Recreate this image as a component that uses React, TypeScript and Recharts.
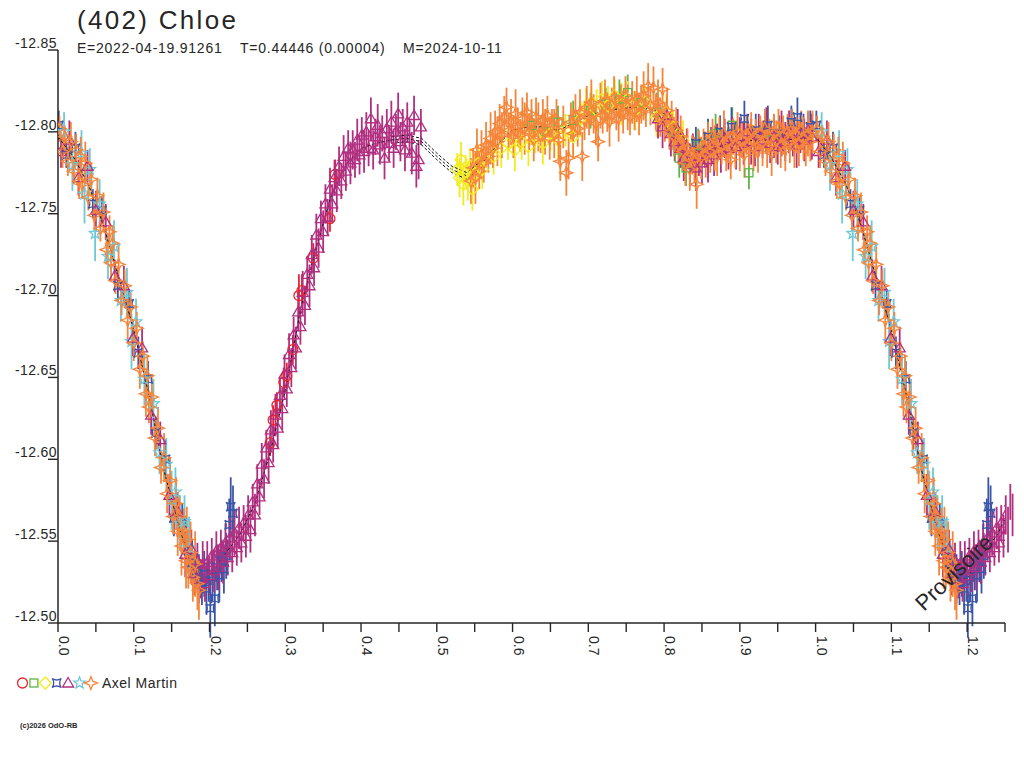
import React from 'react'
import { ScatterChart, Scatter, XAxis, YAxis, ErrorBar } from 'recharts'

type Obs = [number, number, number] // phase, magnitude, error

// red circles
const redObs: Obs[] = [
  [0.280, -12.610, 0.008], [0.284, -12.624, 0.009], [0.289, -12.633, 0.008], [0.298, -12.647, 0.009],
  [0.302, -12.651, 0.008], [0.310, -12.667, 0.009], [0.318, -12.700, 0.013], [0.322, -12.703, 0.010],
  [0.337, -12.723, 0.009], [0.359, -12.747, 0.008], [0.366, -12.774, 0.009],
]

// green squares
const greenObs: Obs[] = [
  [0.625, -12.804, 0.010], [0.642, -12.800, 0.011], [0.660, -12.806, 0.010], [0.680, -12.807, 0.012],
  [0.703, -12.813, 0.011], [0.723, -12.817, 0.010], [0.741, -12.820, 0.012], [0.752, -12.824, 0.011],
  [0.770, -12.818, 0.010], [0.790, -12.812, 0.012], [0.812, -12.800, 0.011], [0.820, -12.784, 0.012],
  [0.829, -12.778, 0.011], [0.845, -12.792, 0.010], [0.868, -12.799, 0.012], [0.890, -12.804, 0.011],
  [0.912, -12.775, 0.010], [0.934, -12.800, 0.012],
]

// yellow diamonds
const yellowObs: Obs[] = [
  [0.527, -12.777, 0.010], [0.530, -12.772, 0.012], [0.532, -12.783, 0.011], [0.535, -12.768, 0.013],
  [0.538, -12.776, 0.010], [0.541, -12.770, 0.012], [0.544, -12.779, 0.011], [0.547, -12.765, 0.013],
  [0.551, -12.774, 0.012], [0.555, -12.781, 0.011], [0.560, -12.777, 0.012],
  [0.575, -12.785, 0.011], [0.585, -12.790, 0.012], [0.594, -12.793, 0.010], [0.603, -12.789, 0.013],
  [0.612, -12.794, 0.011], [0.621, -12.791, 0.012], [0.630, -12.797, 0.010], [0.640, -12.793, 0.013],
  [0.650, -12.799, 0.011], [0.660, -12.795, 0.012], [0.670, -12.801, 0.010], [0.680, -12.797, 0.013],
  [0.690, -12.808, 0.011], [0.697, -12.815, 0.012], [0.704, -12.818, 0.010], [0.711, -12.813, 0.013],
  [0.718, -12.820, 0.011], [0.726, -12.816, 0.012], [0.735, -12.822, 0.010], [0.744, -12.817, 0.013],
  [0.752, -12.820, 0.011], [0.762, -12.813, 0.012], [0.775, -12.818, 0.010], [0.790, -12.809, 0.012],
  [0.803, -12.812, 0.011], [0.812, -12.803, 0.010], [0.825, -12.795, 0.012],
]

// blue curled squares
const blueObs: Obs[] = [
  [0.001, -12.804, 0.009], [0.011, -12.786, 0.008], [0.023, -12.790, 0.010], [0.046, -12.756, 0.009],
  [0.058, -12.752, 0.008], [0.079, -12.706, 0.010], [0.094, -12.695, 0.009], [0.106, -12.665, 0.010],
  [0.119, -12.649, 0.011], [0.129, -12.616, 0.010], [0.142, -12.600, 0.012], [0.153, -12.564, 0.011],
  [0.164, -12.561, 0.012], [0.172, -12.544, 0.013], [0.177, -12.537, 0.014], [0.182, -12.532, 0.012],
  [0.186, -12.527, 0.015], [0.190, -12.524, 0.013], [0.193, -12.530, 0.014], [0.196, -12.521, 0.016],
  [0.199, -12.526, 0.013], [0.201, -12.509, 0.018], [0.204, -12.528, 0.015], [0.207, -12.515, 0.017],
  [0.210, -12.534, 0.014], [0.213, -12.529, 0.016], [0.216, -12.538, 0.013], [0.219, -12.533, 0.015],
  [0.222, -12.541, 0.014], [0.226, -12.560, 0.016], [0.228, -12.571, 0.018], [0.231, -12.567, 0.017],
  [0.842, -12.793, 0.010], [0.858, -12.797, 0.011], [0.874, -12.800, 0.010], [0.889, -12.803, 0.012],
  [0.906, -12.808, 0.011], [0.921, -12.801, 0.010], [0.937, -12.804, 0.012], [0.952, -12.799, 0.011],
  [0.968, -12.806, 0.010], [0.976, -12.809, 0.012], [0.984, -12.800, 0.011], [0.993, -12.803, 0.010],
]

// magenta triangles
const magentaObs: Obs[] = [
  [0.004, -12.788, 0.010], [0.015, -12.795, 0.012], [0.027, -12.772, 0.011], [0.039, -12.779, 0.010],
  [0.050, -12.752, 0.012], [0.063, -12.745, 0.011], [0.075, -12.712, 0.010], [0.087, -12.706, 0.012],
  [0.099, -12.674, 0.011], [0.111, -12.668, 0.013], [0.123, -12.627, 0.012], [0.135, -12.612, 0.011],
  [0.147, -12.578, 0.013], [0.158, -12.568, 0.012], [0.168, -12.542, 0.014],
  [0.176, -12.545, 0.012], [0.180, -12.530, 0.013], [0.184, -12.538, 0.011], [0.188, -12.527, 0.012],
  [0.191, -12.536, 0.014], [0.194, -12.524, 0.011], [0.197, -12.537, 0.013], [0.200, -12.529, 0.012],
  [0.203, -12.541, 0.011], [0.206, -12.532, 0.013], [0.209, -12.544, 0.012], [0.212, -12.534, 0.014],
  [0.215, -12.546, 0.011], [0.218, -12.537, 0.013], [0.221, -12.549, 0.012], [0.224, -12.540, 0.011],
  [0.227, -12.552, 0.013], [0.230, -12.543, 0.012], [0.233, -12.555, 0.014], [0.236, -12.546, 0.011],
  [0.239, -12.558, 0.013], [0.242, -12.549, 0.012], [0.245, -12.561, 0.011], [0.248, -12.553, 0.013],
  [0.251, -12.566, 0.012], [0.254, -12.557, 0.014], [0.257, -12.574, 0.011], [0.260, -12.566, 0.013],
  [0.263, -12.585, 0.012], [0.266, -12.577, 0.011], [0.269, -12.597, 0.013], [0.272, -12.588, 0.012],
  [0.275, -12.607, 0.011], [0.278, -12.598, 0.013], [0.281, -12.618, 0.012], [0.284, -12.609, 0.011],
  [0.287, -12.627, 0.013], [0.290, -12.619, 0.012], [0.293, -12.639, 0.011], [0.296, -12.631, 0.013],
  [0.299, -12.652, 0.012], [0.302, -12.643, 0.011], [0.305, -12.664, 0.013], [0.308, -12.656, 0.012],
  [0.311, -12.676, 0.011], [0.314, -12.668, 0.013], [0.317, -12.690, 0.012], [0.320, -12.681, 0.011],
  [0.323, -12.702, 0.013], [0.326, -12.694, 0.012], [0.329, -12.713, 0.011], [0.332, -12.706, 0.013],
  [0.335, -12.725, 0.012], [0.338, -12.717, 0.011], [0.341, -12.737, 0.013], [0.344, -12.729, 0.012],
  [0.347, -12.747, 0.011], [0.350, -12.739, 0.013], [0.353, -12.756, 0.012], [0.356, -12.748, 0.011],
  [0.359, -12.765, 0.013], [0.362, -12.756, 0.012], [0.365, -12.772, 0.011], [0.368, -12.764, 0.013],
  [0.371, -12.779, 0.012], [0.374, -12.770, 0.011], [0.377, -12.785, 0.013], [0.380, -12.776, 0.012],
  [0.383, -12.790, 0.011], [0.386, -12.781, 0.013], [0.389, -12.789, 0.012], [0.392, -12.783, 0.011],
  [0.395, -12.795, 0.013], [0.398, -12.786, 0.012], [0.401, -12.798, 0.011], [0.404, -12.788, 0.013],
  [0.407, -12.800, 0.012], [0.410, -12.790, 0.011], [0.413, -12.808, 0.013], [0.416, -12.789, 0.012],
  [0.419, -12.797, 0.011], [0.422, -12.804, 0.013], [0.425, -12.792, 0.012], [0.428, -12.799, 0.011],
  [0.431, -12.784, 0.013], [0.434, -12.802, 0.012], [0.437, -12.793, 0.011], [0.440, -12.806, 0.013],
  [0.443, -12.790, 0.012], [0.446, -12.800, 0.011], [0.449, -12.811, 0.013], [0.452, -12.794, 0.012],
  [0.455, -12.803, 0.011], [0.458, -12.789, 0.013], [0.461, -12.806, 0.012], [0.464, -12.796, 0.011],
  [0.467, -12.787, 0.013], [0.470, -12.810, 0.012], [0.473, -12.779, 0.013], [0.476, -12.783, 0.012],
  [0.479, -12.803, 0.011],
  [0.792, -12.808, 0.012], [0.798, -12.803, 0.013], [0.804, -12.810, 0.011], [0.809, -12.799, 0.014],
  [0.814, -12.794, 0.012], [0.818, -12.801, 0.013], [0.822, -12.790, 0.012], [0.826, -12.784, 0.014],
  [0.830, -12.791, 0.011], [0.834, -12.780, 0.013], [0.838, -12.787, 0.012], [0.842, -12.778, 0.014],
  [0.846, -12.785, 0.012], [0.850, -12.781, 0.013], [0.854, -12.789, 0.011], [0.858, -12.783, 0.014],
  [0.862, -12.791, 0.012], [0.866, -12.786, 0.013], [0.870, -12.794, 0.011], [0.875, -12.789, 0.014],
  [0.880, -12.796, 0.012], [0.885, -12.790, 0.013], [0.890, -12.798, 0.011], [0.895, -12.791, 0.014],
  [0.900, -12.797, 0.012], [0.905, -12.793, 0.013], [0.910, -12.800, 0.011], [0.915, -12.794, 0.014],
  [0.920, -12.791, 0.012], [0.925, -12.798, 0.013], [0.930, -12.795, 0.011], [0.935, -12.801, 0.014],
  [0.940, -12.793, 0.012], [0.945, -12.797, 0.013], [0.950, -12.791, 0.011], [0.955, -12.799, 0.014],
  [0.960, -12.794, 0.012], [0.965, -12.800, 0.013], [0.970, -12.796, 0.011], [0.975, -12.792, 0.014],
  [0.980, -12.799, 0.012], [0.985, -12.795, 0.013], [0.990, -12.801, 0.011], [0.995, -12.797, 0.014],
]

// cyan stars
const cyanObs: Obs[] = [
  [0.008, -12.800, 0.012], [0.019, -12.780, 0.016], [0.031, -12.787, 0.014], [0.035, -12.762, 0.018],
  [0.042, -12.777, 0.013], [0.049, -12.738, 0.017], [0.055, -12.756, 0.015], [0.066, -12.724, 0.014],
  [0.074, -12.730, 0.016], [0.083, -12.697, 0.013], [0.091, -12.702, 0.015], [0.097, -12.672, 0.017],
  [0.103, -12.684, 0.014], [0.114, -12.649, 0.016], [0.126, -12.634, 0.015], [0.134, -12.604, 0.013],
  [0.143, -12.597, 0.016], [0.150, -12.575, 0.018], [0.155, -12.580, 0.015], [0.161, -12.561, 0.017],
  [0.167, -12.562, 0.016], [0.173, -12.546, 0.019],
]

// orange four-point stars
const orangeObs: Obs[] = [
  [0.002, -12.802, 0.008], [0.006, -12.788, 0.010], [0.009, -12.797, 0.007], [0.013, -12.782, 0.009],
  [0.017, -12.794, 0.012], [0.021, -12.776, 0.008], [0.024, -12.789, 0.010], [0.028, -12.770, 0.011],
  [0.030, -12.785, 0.012], [0.032, -12.768, 0.009], [0.036, -12.781, 0.013], [0.040, -12.760, 0.008],
  [0.044, -12.771, 0.010], [0.048, -12.749, 0.009], [0.052, -12.761, 0.011], [0.056, -12.741, 0.008],
  [0.060, -12.751, 0.012], [0.064, -12.728, 0.009], [0.068, -12.739, 0.010], [0.070, -12.720, 0.010],
  [0.072, -12.732, 0.011], [0.076, -12.709, 0.008], [0.080, -12.719, 0.012], [0.084, -12.697, 0.009],
  [0.088, -12.706, 0.010], [0.092, -12.685, 0.013], [0.096, -12.693, 0.009], [0.100, -12.671, 0.011],
  [0.104, -12.680, 0.010], [0.108, -12.655, 0.012], [0.112, -12.663, 0.009], [0.116, -12.640, 0.014],
  [0.118, -12.651, 0.013], [0.120, -12.632, 0.010], [0.124, -12.638, 0.012], [0.128, -12.613, 0.011],
  [0.132, -12.619, 0.013], [0.136, -12.595, 0.010], [0.140, -12.601, 0.015], [0.144, -12.579, 0.012],
  [0.148, -12.587, 0.014], [0.152, -12.565, 0.011], [0.156, -12.573, 0.016], [0.158, -12.556, 0.015],
  [0.160, -12.565, 0.013], [0.163, -12.547, 0.018], [0.166, -12.556, 0.014], [0.169, -12.538, 0.017],
  [0.170, -12.551, 0.020], [0.172, -12.534, 0.013], [0.175, -12.543, 0.019], [0.178, -12.528, 0.015],
  [0.181, -12.536, 0.020], [0.184, -12.524, 0.016], [0.186, -12.520, 0.018],
  [0.545, -12.770, 0.014], [0.548, -12.778, 0.012], [0.551, -12.772, 0.016], [0.553, -12.789, 0.013],
  [0.556, -12.776, 0.011], [0.559, -12.786, 0.015], [0.562, -12.781, 0.012], [0.565, -12.792, 0.014],
  [0.568, -12.785, 0.010], [0.571, -12.796, 0.016], [0.574, -12.790, 0.012], [0.577, -12.800, 0.013],
  [0.580, -12.794, 0.015], [0.583, -12.805, 0.012], [0.586, -12.798, 0.014], [0.589, -12.809, 0.013],
  [0.592, -12.815, 0.012], [0.595, -12.801, 0.011], [0.598, -12.806, 0.014], [0.601, -12.797, 0.013],
  [0.604, -12.811, 0.015], [0.607, -12.803, 0.012], [0.610, -12.798, 0.010], [0.613, -12.808, 0.013],
  [0.616, -12.802, 0.016], [0.619, -12.812, 0.012], [0.622, -12.800, 0.011], [0.625, -12.806, 0.014],
  [0.628, -12.795, 0.013], [0.631, -12.809, 0.012], [0.634, -12.803, 0.015], [0.637, -12.798, 0.011],
  [0.640, -12.807, 0.013], [0.643, -12.800, 0.014], [0.646, -12.810, 0.012], [0.649, -12.796, 0.013],
  [0.652, -12.804, 0.010], [0.655, -12.799, 0.015], [0.658, -12.808, 0.012], [0.661, -12.795, 0.014],
  [0.663, -12.782, 0.012], [0.667, -12.803, 0.013], [0.671, -12.775, 0.014], [0.674, -12.784, 0.013],
  [0.677, -12.806, 0.012], [0.680, -12.799, 0.015], [0.683, -12.810, 0.013], [0.686, -12.802, 0.011],
  [0.689, -12.812, 0.014], [0.692, -12.785, 0.015], [0.695, -12.807, 0.012], [0.698, -12.815, 0.013],
  [0.701, -12.809, 0.011], [0.704, -12.818, 0.014], [0.707, -12.811, 0.012], [0.710, -12.805, 0.013],
  [0.713, -12.794, 0.012], [0.716, -12.816, 0.014], [0.719, -12.810, 0.011], [0.722, -12.819, 0.013],
  [0.725, -12.812, 0.012], [0.728, -12.806, 0.015], [0.731, -12.816, 0.011], [0.734, -12.821, 0.013],
  [0.737, -12.813, 0.012], [0.740, -12.808, 0.014], [0.743, -12.818, 0.011], [0.746, -12.812, 0.013],
  [0.749, -12.822, 0.012], [0.752, -12.815, 0.014], [0.755, -12.809, 0.011], [0.758, -12.818, 0.013],
  [0.761, -12.813, 0.012], [0.764, -12.820, 0.014], [0.767, -12.811, 0.013], [0.770, -12.817, 0.012],
  [0.773, -12.822, 0.015], [0.776, -12.814, 0.011], [0.779, -12.828, 0.014], [0.782, -12.816, 0.012],
  [0.786, -12.827, 0.013], [0.789, -12.812, 0.011], [0.792, -12.818, 0.014], [0.795, -12.809, 0.012],
  [0.798, -12.826, 0.013], [0.801, -12.806, 0.012], [0.804, -12.813, 0.014], [0.807, -12.800, 0.011],
  [0.810, -12.806, 0.013], [0.813, -12.797, 0.012], [0.816, -12.801, 0.014], [0.819, -12.792, 0.012],
  [0.822, -12.797, 0.013], [0.825, -12.788, 0.011], [0.828, -12.781, 0.014], [0.831, -12.790, 0.012],
  [0.834, -12.777, 0.013], [0.837, -12.786, 0.012], [0.840, -12.783, 0.014], [0.843, -12.768, 0.015],
  [0.846, -12.789, 0.012], [0.849, -12.784, 0.013], [0.852, -12.791, 0.011], [0.855, -12.786, 0.014],
  [0.858, -12.794, 0.012], [0.861, -12.788, 0.013], [0.864, -12.797, 0.011], [0.867, -12.790, 0.014],
  [0.870, -12.785, 0.012], [0.873, -12.796, 0.013], [0.876, -12.791, 0.011], [0.879, -12.799, 0.014],
  [0.882, -12.788, 0.012], [0.885, -12.794, 0.013], [0.888, -12.783, 0.012], [0.891, -12.797, 0.011],
  [0.894, -12.792, 0.014], [0.897, -12.800, 0.012], [0.900, -12.789, 0.013], [0.903, -12.795, 0.011],
  [0.906, -12.786, 0.014], [0.909, -12.798, 0.012], [0.912, -12.792, 0.013], [0.915, -12.801, 0.011],
  [0.918, -12.790, 0.014], [0.921, -12.796, 0.012], [0.924, -12.788, 0.013], [0.927, -12.799, 0.011],
  [0.930, -12.793, 0.014], [0.933, -12.802, 0.012], [0.936, -12.791, 0.013], [0.939, -12.797, 0.011],
  [0.942, -12.787, 0.014], [0.945, -12.799, 0.012], [0.948, -12.794, 0.013], [0.951, -12.803, 0.011],
  [0.954, -12.792, 0.014], [0.957, -12.798, 0.012], [0.960, -12.789, 0.013], [0.963, -12.800, 0.011],
  [0.966, -12.795, 0.014], [0.969, -12.802, 0.012], [0.972, -12.791, 0.013], [0.975, -12.798, 0.011],
  [0.978, -12.793, 0.014], [0.981, -12.801, 0.012], [0.984, -12.796, 0.013], [0.987, -12.790, 0.011],
  [0.990, -12.799, 0.014], [0.993, -12.794, 0.012], [0.996, -12.800, 0.013],
]

// fitted curve (phase, magnitude) and the two envelope lines across the gap
const fitCurve: [number, number][] = [
  [0.00, -12.797], [0.02, -12.785], [0.04, -12.768], [0.06, -12.743], [0.08, -12.711], [0.10, -12.679],
  [0.12, -12.639], [0.14, -12.593], [0.16, -12.558], [0.18, -12.532], [0.19, -12.527], [0.20, -12.527],
  [0.21, -12.535], [0.22, -12.542], [0.24, -12.554], [0.26, -12.573], [0.28, -12.604], [0.30, -12.642],
  [0.32, -12.691], [0.34, -12.728], [0.36, -12.760], [0.38, -12.780], [0.40, -12.790], [0.42, -12.793],
  [0.44, -12.795], [0.46, -12.796], [0.48, -12.794], [0.50, -12.785], [0.52, -12.777], [0.54, -12.773],
  [0.56, -12.781], [0.58, -12.792], [0.60, -12.801], [0.62, -12.803], [0.64, -12.803], [0.66, -12.801],
  [0.68, -12.805], [0.70, -12.810], [0.72, -12.813], [0.74, -12.814], [0.76, -12.815], [0.78, -12.814],
  [0.80, -12.811], [0.82, -12.800], [0.84, -12.788], [0.86, -12.789], [0.88, -12.792], [0.90, -12.794],
  [0.92, -12.795], [0.94, -12.795], [0.96, -12.795], [0.98, -12.796],
]
const fitUpper: [number, number][] = [
  [0.44, -12.797], [0.46, -12.798], [0.48, -12.796], [0.50, -12.787], [0.52, -12.779], [0.54, -12.775], [0.56, -12.783],
]
const fitLower: [number, number][] = [
  [0.44, -12.793], [0.46, -12.794], [0.48, -12.792], [0.50, -12.783], [0.52, -12.775], [0.54, -12.771], [0.56, -12.779],
]

const xTicks = [0, 0.05, 0.1, 0.15, 0.2, 0.25, 0.3, 0.35, 0.4, 0.45, 0.5, 0.55, 0.6, 0.65, 0.7, 0.75, 0.8, 0.85, 0.9, 0.95, 1.0, 1.05, 1.1, 1.15, 1.2, 1.25]
const yTicks = [-12.85, -12.8, -12.75, -12.7, -12.65, -12.6, -12.55, -12.5]

const FONT = '"Liberation Sans", Arial, sans-serif'
const INK = '#262626'

// phase diagram repeats 0..0.25 after 1.0
function rows(obs: Obs[]) {
  const base = obs.map(([x, y, e]) => ({ x, y, e }))
  const wrap = obs.filter(([x]) => x <= 0.26).map(([x, y, e]) => ({ x: x + 1, y, e }))
  return base.concat(wrap)
}
function curveRows(pts: [number, number][], repeat: boolean) {
  const base = pts.map(([x, y]) => ({ x, y }))
  if (!repeat) return base
  return base.concat(pts.filter(([x]) => x <= 0.26).map(([x, y]) => ({ x: x + 1, y })))
}

type Draw = (x: number, y: number, c: string) => React.ReactNode

const sw = 1.3
const markers: Record<string, Draw> = {
  circle: (x, y, c) => <circle cx={x} cy={y} r={5} fill="none" stroke={c} strokeWidth={sw} />,
  square: (x, y, c) => <rect x={x - 4} y={y - 4} width={8} height={8} fill="none" stroke={c} strokeWidth={sw} />,
  diamond: (x, y, c) => (
    <path d={`M${x},${y - 6}L${x + 6},${y}L${x},${y + 6}L${x - 6},${y}Z`} fill="none" stroke={c} strokeWidth={sw} />
  ),
  curl: (x, y, c) => (
    <path
      d={`M${x - 4.5},${y - 4.5}Q${x},${y - 1.5} ${x + 4.5},${y - 4.5}Q${x + 1.5},${y} ${x + 4.5},${y + 4.5}Q${x},${y + 1.5} ${x - 4.5},${y + 4.5}Q${x - 1.5},${y} ${x - 4.5},${y - 4.5}Z`}
      fill="none" stroke={c} strokeWidth={sw}
    />
  ),
  triangle: (x, y, c) => (
    <path d={`M${x},${y - 5.5}L${x + 5.5},${y + 4}L${x - 5.5},${y + 4}Z`} fill="none" stroke={c} strokeWidth={sw} />
  ),
  star: (x, y, c) => {
    const pts: string[] = []
    for (let i = 0; i < 10; i++) {
      const r = i % 2 === 0 ? 6 : 2.6
      const a = -Math.PI / 2 + (i * Math.PI) / 5
      pts.push(`${x + r * Math.cos(a)},${y + r * Math.sin(a)}`)
    }
    return <polygon points={pts.join(' ')} fill="none" stroke={c} strokeWidth={sw} />
  },
  star4: (x, y, c) => (
    <path
      d={`M${x},${y - 6.5}L${x + 1.8},${y - 1.8}L${x + 6.5},${y}L${x + 1.8},${y + 1.8}L${x},${y + 6.5}L${x - 1.8},${y + 1.8}L${x - 6.5},${y}L${x - 1.8},${y - 1.8}Z`}
      fill="none" stroke={c} strokeWidth={sw}
    />
  ),
}

const series = [
  { key: 'red', color: '#e8262b', marker: 'circle', obs: redObs },
  { key: 'green', color: '#5cb646', marker: 'square', obs: greenObs },
  { key: 'yellow', color: '#f2ec1c', marker: 'diamond', obs: yellowObs },
  { key: 'blue', color: '#3b55a6', marker: 'curl', obs: blueObs },
  { key: 'cyan', color: '#6cc9da', marker: 'star', obs: cyanObs },
  { key: 'magenta', color: '#b12f80', marker: 'triangle', obs: magentaObs },
  { key: 'orange', color: '#f5853a', marker: 'star4', obs: orangeObs },
]
const legendOrder = ['red', 'green', 'yellow', 'blue', 'magenta', 'cyan', 'orange']

function XTick(props: any) {
  const { x, y, payload } = props
  const v = payload.value as number
  const major = Math.abs(v * 10 - Math.round(v * 10)) < 1e-6
  return (
    <g>
      <line x1={x} x2={x} y1={y} y2={y + 9} stroke={INK} strokeWidth={1.4} />
      {major && (
        <text transform={`translate(${x + 1},${y + 13}) rotate(90)`} fontSize={14} fill={INK} fontFamily={FONT}>
          {v.toFixed(1)}
        </text>
      )}
    </g>
  )
}

function YTick(props: any) {
  const { x, y, payload } = props
  return (
    <g>
      <line x1={x - 10} x2={x} y1={y} y2={y} stroke={INK} strokeWidth={1.4} />
      <text x={x - 1} y={y - 2} textAnchor="end" fontSize={14} letterSpacing={0.4} fill={INK} fontFamily={FONT}>
        {(payload.value as number).toFixed(2)}
      </text>
    </g>
  )
}

const Empty = () => <g />
const fitLine = { stroke: '#111', strokeWidth: 1, strokeDasharray: '3 2' }

export default function App() {
  return (
    <div style={{ position: 'absolute', left: 0, top: 0, width: 1024, height: 768, background: '#fff' }}>
      <ScatterChart width={1024} height={768} margin={{ top: 50, right: 19, bottom: 105, left: 0 }}>
        <XAxis
          type="number" dataKey="x" domain={[0, 1.25]} ticks={xTicks} allowDataOverflow
          axisLine={{ stroke: INK, strokeWidth: 1.5 }} tickLine={false} tickSize={0} tickMargin={0}
          tick={<XTick />} height={40} interval={0}
        />
        <YAxis
          type="number" dataKey="y" domain={[-12.85, -12.5]} ticks={yTicks} reversed allowDataOverflow
          axisLine={{ stroke: INK, strokeWidth: 1.5 }} tickLine={false} tickSize={0} tickMargin={0}
          tick={<YTick />} width={58} interval={0}
        />
        <Scatter data={curveRows(fitCurve, true)} isAnimationActive={false} shape={Empty} line={fitLine} />
        <Scatter data={curveRows(fitUpper, false)} isAnimationActive={false} shape={Empty} line={fitLine} />
        <Scatter data={curveRows(fitLower, false)} isAnimationActive={false} shape={Empty} line={fitLine} />
        {series.map((s) => (
          <Scatter
            key={s.key}
            data={rows(s.obs)}
            isAnimationActive={false}
            shape={(p: any) => <g>{markers[s.marker](p.cx, p.cy, s.color)}</g>}
          >
            <ErrorBar dataKey="e" direction="y" width={0} stroke={s.color} strokeWidth={1.8} isAnimationActive={false} />
          </Scatter>
        ))}
      </ScatterChart>
      <svg width={1024} height={768} style={{ position: 'absolute', left: 0, top: 0, pointerEvents: 'none' }} fontFamily={FONT}>
        <text x={77} y={29} fontSize={26} letterSpacing={2.3} fill={INK}>(402) Chloe</text>
        <text x={77} y={53} fontSize={14} letterSpacing={0.75} fill={INK}>E=2022-04-19.91261</text>
        <text x={240} y={53} fontSize={14} letterSpacing={0.75} fill={INK}>T=0.44446 (0.00004)</text>
        <text x={403} y={53} fontSize={14} letterSpacing={0.75} fill={INK}>M=2024-10-11</text>
        {legendOrder.map((k, i) => {
          const s = series.find((d) => d.key === k)!
          return <g key={k}>{markers[s.marker](22.5 + i * 11.4, 683, s.color)}</g>
        })}
        <text x={102} y={688} fontSize={14} letterSpacing={0.5} fill={INK}>Axel Martin</text>
        <text x={20} y={728} fontSize={7.5} fontWeight="bold" fill={INK}>(c)2026 OdO-RB</text>
        <text x={924} y={612} fontSize={22} fill={INK} transform="rotate(-44 924 612)">Provisoire</text>
      </svg>
    </div>
  )
}
